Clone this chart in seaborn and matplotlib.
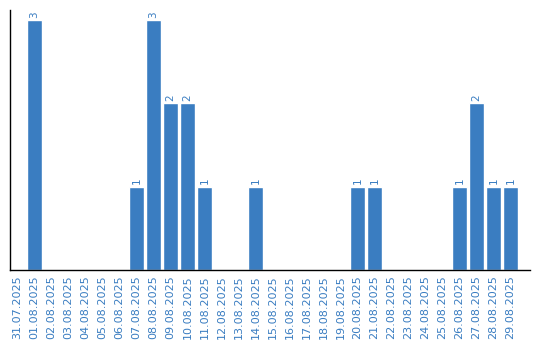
import matplotlib
matplotlib.use("Agg")
import matplotlib.pyplot as plt
import seaborn as sns
import pandas as pd

dates = ["31.07.2025", "01.08.2025", "02.08.2025", "03.08.2025", "04.08.2025",
         "05.08.2025", "06.08.2025", "07.08.2025", "08.08.2025", "09.08.2025",
         "10.08.2025", "11.08.2025", "12.08.2025", "13.08.2025", "14.08.2025",
         "15.08.2025", "16.08.2025", "17.08.2025", "18.08.2025", "19.08.2025",
         "20.08.2025", "21.08.2025", "22.08.2025", "23.08.2025", "24.08.2025",
         "25.08.2025", "26.08.2025", "27.08.2025", "28.08.2025", "29.08.2025"]
counts = [0, 3, 0, 0, 0, 0, 0, 1, 3, 2,
          2, 1, 0, 0, 1, 0, 0, 0, 0, 0,
          1, 1, 0, 0, 0, 0, 1, 2, 1, 1]

BLUE = "#3a7dc1"
sns.set_theme(style="white")
plt.rcParams['font.family'] = ['DejaVu Sans']

df = pd.DataFrame({"date": dates, "count": counts})

fig = plt.figure(figsize=(5.4, 3.4), dpi=100)
ax = fig.add_axes([10/540, 70/340, 520/540, 260/340])
sns.barplot(data=df, x="date", y="count", color=BLUE, saturation=1,
            width=0.85, ax=ax, order=dates)

for i, v in enumerate(counts):
    if v > 0:
        ax.text(i, v + 0.03, str(v), rotation=90, ha="center", va="bottom",
                color=BLUE, fontsize=7.5)

ax.set_xlim(-0.45, 30.15)
ax.set_ylim(0, 3.12)
ax.set_xlabel("")
ax.set_ylabel("")
ax.set_yticks([])
ax.tick_params(axis="x", labelrotation=90, labelsize=8, labelcolor=BLUE,
               length=0, pad=4)
for lab in ax.get_xticklabels():
    lab.set_va("top")
for s in ["top", "right"]:
    ax.spines[s].set_visible(False)
for s in ["left", "bottom"]:
    ax.spines[s].set_color("black")
    ax.spines[s].set_linewidth(1.0)

fig.savefig("out.png", dpi=100)
